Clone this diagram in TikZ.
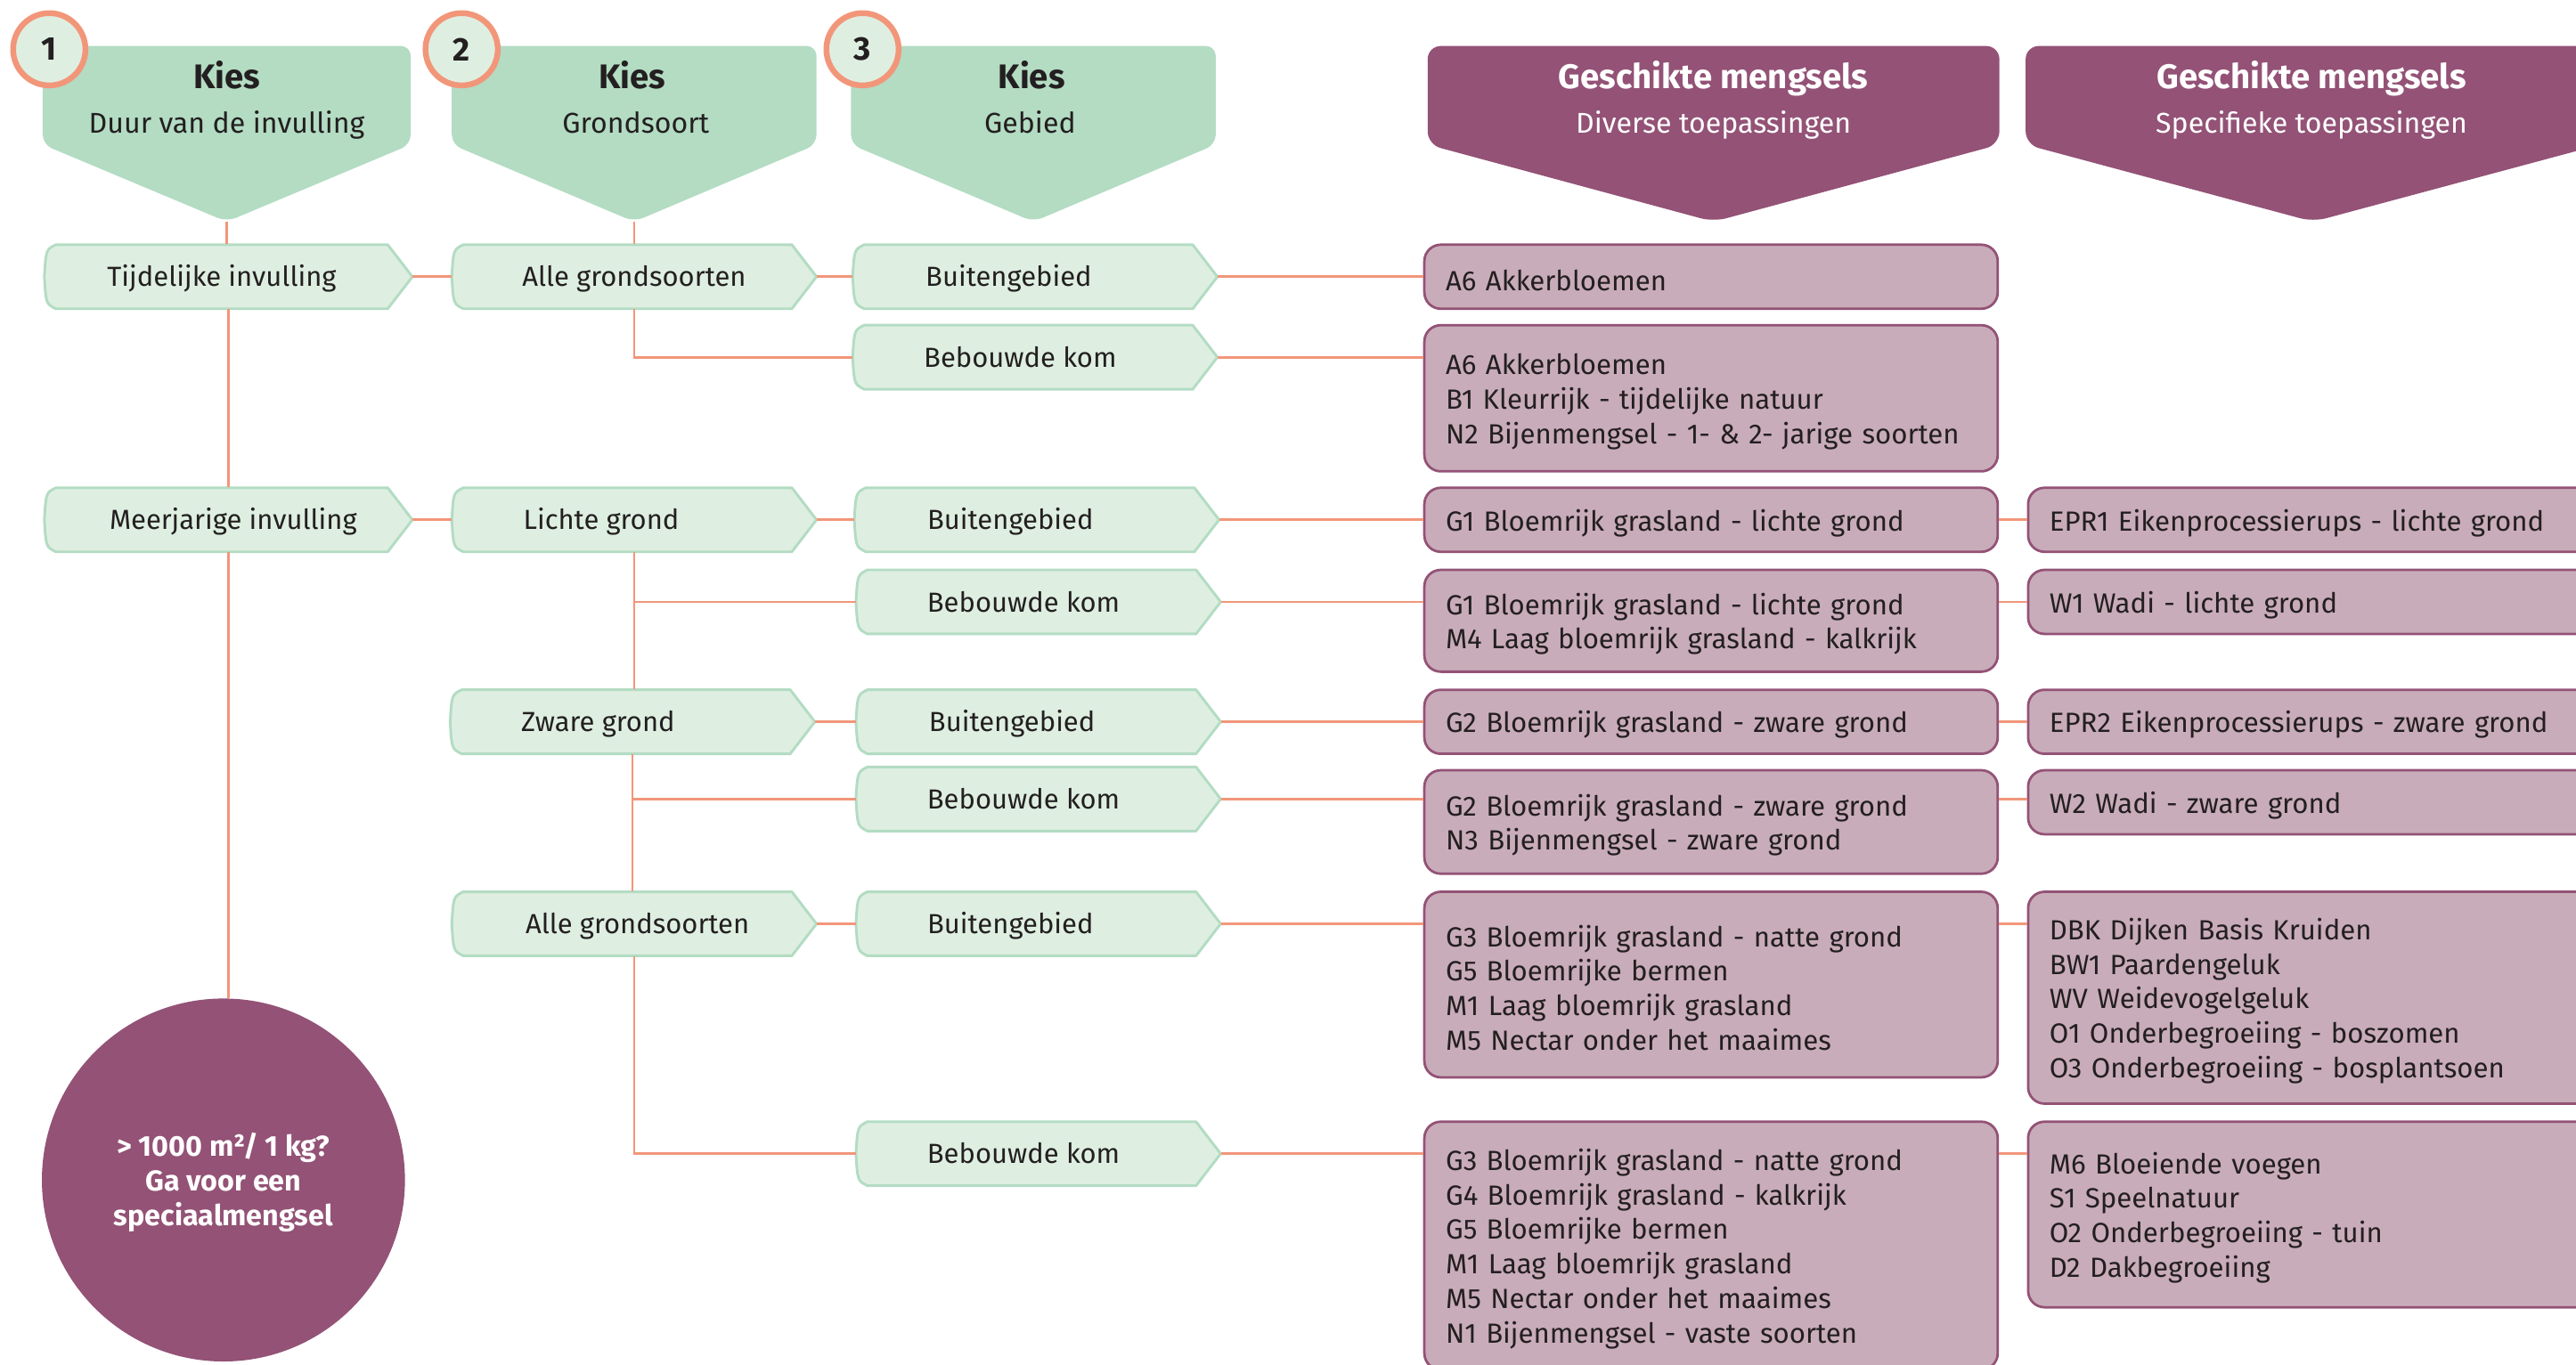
\documentclass[tikz,border=0pt]{standalone}
\usepackage{fontspec}
\setmainfont{Fira Sans}
\usetikzlibrary{calc}
\definecolor{hg}{HTML}{B3DCC3}
\definecolor{bg}{HTML}{DEEFE1}
\definecolor{hp}{HTML}{935276}
\definecolor{bp}{HTML}{C9ACB9}
\definecolor{orng}{HTML}{F2967A}
\definecolor{ink}{HTML}{231F20}
\newcommand\bodyfont{\fontsize{16.9}{21}\selectfont}
\newcommand\fl{\rule{0pt}{17pt}}
\tikzset{
  conn/.style={draw=orng, line width=1.5pt},
  gshape/.style={fill=bg, draw=hg, line width=1.6pt, line join=round},
  ghd/.style={fill=hg, rounded corners=6pt},
  phd/.style={fill=hp, rounded corners=8pt},
  gtext/.style={anchor=base, inner sep=0pt, text=ink, font=\fontsize{16.8}{21}\selectfont},
  htitle/.style={anchor=base, inner sep=0pt, font=\fontsize{20.8}{24}\selectfont\bfseries},
  hsub/.style={anchor=base, inner sep=0pt, font=\fontsize{17.4}{21}\selectfont},
  pbox/.style={rectangle, rounded corners=10pt, fill=bp, draw=hp, line width=1.5pt,
    inner xsep=13pt, inner ysep=0pt, text width=323pt, align=left, text=ink, font=\bodyfont},
  numc/.style={circle, fill=bg, draw=orng, line width=3.5pt, minimum size=44pt, inner sep=0pt,
    text=ink, font=\fontsize{20}{22}\selectfont\bfseries},
  bigc/.style={circle, fill=hp, minimum size=221pt, inner sep=0pt, text=white, align=center,
    font=\fontsize{17.5}{21}\selectfont\bfseries},
  frame/.style={inner sep=0pt, draw=none}
}
% name, x0, x1, ytop, ybot, textx, text
\newcommand\gopt[7]{%
  \path[gshape] (#2+7,#4) -- (#3-15,#4) -- (#3,{(#4+#5)/2}) -- (#3-15,#5) -- (#2+7,#5)
     .. controls (#2+1,#5-3) .. (#2,{(#4+#5)/2}) .. controls (#2+1,#4+3) .. cycle;
  \node[frame, minimum width={(#3-#2)*1pt}, minimum height={(#5-#4)*1pt}] (#1) at ({(#2+#3)/2},{(#4+#5)/2}) {};
  \node[gtext] (#1-t) at (#6,{(#4+#5)/2+6}) {#7};
}
% name, x0, x1, tipx
\newcommand\greenhead[4]{%
  \path[ghd] (#2,28) -- (#3,28) -- (#3,88) -- (#4,135) -- (#2,88) -- cycle;
  \coordinate (#1) at (#4,135);
}
\newcommand\purplehead[4]{%
  \path[phd] (#2,28) -- (#3,28) -- (#3,88) -- (#4,135) -- (#2,88) -- cycle;
  \coordinate (#1) at (#4,135);
}
\begin{document}
\begin{tikzpicture}[x=1pt,y=-1pt]
\useasboundingbox (0,0) rectangle (1568,831);
\clip (0,0) rectangle (1568,831);
\fill[white] (0,0) rectangle (1568,831);

% headers
\greenhead{h1}{26}{250}{138}
\greenhead{h2}{275}{497}{386}
\greenhead{h3}{518}{740}{629}
\purplehead{h4}{869}{1217}{1043}
\purplehead{h5}{1233}{1583}{1408}

\node[htitle, text=ink] (h1a) at (138,54) {Kies};
\node[hsub, text=ink] (h1b) at (138,81) {Duur van de invulling};
\node[htitle, text=ink] (h2a) at (385,54) {Kies};
\node[hsub, text=ink] (h2b) at (387,81) {Grondsoort};
\node[htitle, text=ink] (h3a) at (628,54) {Kies};
\node[hsub, text=ink] (h3b) at (627,81) {Gebied};
\node[htitle, text=white] (h4a) at (1043,54) {Geschikte mengsels};
\node[hsub, text=white] (h4b) at (1043,81) {Diverse toepassingen};
\node[htitle, text=white] (h5a) at (1407,54) {Geschikte mengsels};
\node[hsub, text=white] (h5b) at (1407,81) {Specifieke toepassingen};

\node[numc] (n1) at (30,30) {1};
\node[numc] (n2) at (281,30) {2};
\node[numc] (n3) at (525,30) {3};

% green option boxes
\gopt{tij}{27}{251}{149}{188}{135}{Tijdelijke invulling}
\gopt{alle1}{275}{497}{149}{188}{386}{Alle grondsoorten}
\gopt{bui1}{519}{741}{149}{188}{614}{Buitengebied}
\gopt{beb1}{519}{741}{198}{237}{621}{Bebouwde kom}
\gopt{meer}{27}{251}{297}{336}{142}{Meerjarige invulling}
\gopt{licht}{275}{497}{297}{336}{366}{Lichte grond}
\gopt{bui2}{520}{742}{297}{336}{615}{Buitengebied}
\gopt{beb2}{521}{743}{347}{386}{623}{Bebouwde kom}
\gopt{zwaar}{274}{496}{420}{459}{364}{Zware grond}
\gopt{bui3}{521}{743}{420}{459}{616}{Buitengebied}
\gopt{beb3}{521}{743}{467}{506}{623}{Bebouwde kom}
\gopt{alle2}{275}{497}{543}{582}{388}{Alle grondsoorten}
\gopt{bui4}{521}{743}{543}{582}{615}{Buitengebied}
\gopt{beb4}{521}{743}{683}{722}{623}{Bebouwde kom}

% purple boxes column 1
\node[pbox, minimum height=39pt] (p1) at (1041.5,168.5) {\fl A6 Akkerbloemen};
\node[pbox, minimum height=89pt] (p2) at (1041.5,242.5) {\fl A6 Akkerbloemen\\B1 Kleurrijk - tijdelijke natuur\\N2 Bijenmengsel - 1- \& 2- jarige soorten};
\node[pbox, minimum height=39pt] (p3) at (1041.5,316.5) {\fl G1 Bloemrijk grasland - lichte grond};
\node[pbox, minimum height=62pt] (p4) at (1041.5,378) {\fl G1 Bloemrijk grasland - lichte grond\\M4 Laag bloemrijk grasland - kalkrijk};
\node[pbox, minimum height=39pt] (p5) at (1041.5,439.5) {\fl G2 Bloemrijk grasland - zware grond};
\node[pbox, minimum height=63pt] (p6) at (1041.5,500.5) {\fl G2 Bloemrijk grasland - zware grond\\N3 Bijenmengsel - zware grond};
\node[pbox, minimum height=113pt] (p7) at (1041.5,599.5) {\fl G3 Bloemrijk grasland - natte grond\\G5 Bloemrijke bermen\\M1 Laag bloemrijk grasland\\M5 Nectar onder het maaimes};
\node[pbox, minimum height=151pt] (p8) at (1041.5,758.5) {\fl G3 Bloemrijk grasland - natte grond\\G4 Bloemrijk grasland - kalkrijk\\G5 Bloemrijke bermen\\M1 Laag bloemrijk grasland\\M5 Nectar onder het maaimes\\N1 Bijenmengsel - vaste soorten};

% purple boxes column 2
\node[pbox, minimum height=39pt] (q3) at (1409,316.5) {\fl EPR1 Eikenprocessierups - lichte grond};
\node[pbox, minimum height=39pt] (q4) at (1409,366.5) {\fl W1 Wadi - lichte grond};
\node[pbox, minimum height=39pt] (q5) at (1409,439.5) {\fl EPR2 Eikenprocessierups - zware grond};
\node[pbox, minimum height=39pt] (q6) at (1409,488.5) {\fl W2 Wadi - zware grond};
\node[pbox, minimum height=129pt] (q7) at (1409,607.5) {\fl DBK Dijken Basis Kruiden\\BW1 Paardengeluk\\WV Weidevogelgeluk\\O1 Onderbegroeiing - boszomen\\O3 Onderbegroeiing - bosplantsoen};
\node[pbox, minimum height=113pt] (q8) at (1409,739.5) {\fl M6 Bloeiende voegen\\S1 Speelnatuur\\O2 Onderbegroeiing - tuin\\D2 Dakbegroeiing};

% big circle
\node[bigc] (circ) at (136,718.5) {\fl > 1000 m²/ 1 kg?\\Ga voor een\\speciaalmengsel};

% connectors
\draw[conn] (h1) -- (h1 |- tij.north);
\draw[conn] (tij.south) -- (meer.north);
\draw[conn] (meer.south) -- (meer.south |- circ.north);
\draw[conn] (h2) -- (h2 |- alle1.north);
\draw[conn] (alle1.south) |- (beb1.west);
\draw[conn] (licht.south) -- (licht.south |- zwaar.north);
\draw[conn] (licht.south) |- (beb2.west);
\draw[conn] (zwaar.south) -- (zwaar.south |- alle2.north);
\draw[conn] (zwaar.south) |- (beb3.west);
\draw[conn] (alle2.south) |- (beb4.west);

\draw[conn] (tij.east) -- (alle1.west);
\draw[conn] (alle1.east) -- (bui1.west);
\draw[conn] (bui1.east) -- (p1.west);
\draw[conn] (beb1.east) -- (p2.west |- beb1.east);
\draw[conn] (meer.east) -- (licht.west);
\draw[conn] (licht.east) -- (bui2.west);
\draw[conn] (bui2.east) -- (p3.west);
\draw[conn] (p3.east) -- (q3.west);
\draw[conn] (beb2.east) -- (p4.west |- beb2.east);
\draw[conn] (p4.east |- beb2.east) -- (q4.west |- beb2.east);
\draw[conn] (zwaar.east) -- (bui3.west);
\draw[conn] (bui3.east) -- (p5.west);
\draw[conn] (p5.east) -- (q5.west);
\draw[conn] (beb3.east) -- (p6.west |- beb3.east);
\draw[conn] (p6.east |- beb3.east) -- (q6.west |- beb3.east);
\draw[conn] (alle2.east) -- (bui4.west);
\draw[conn] (bui4.east) -- (p7.west |- bui4.east);
\draw[conn] (p7.east |- bui4.east) -- (q7.west |- bui4.east);
\draw[conn] (beb4.east) -- (p8.west |- beb4.east);
\draw[conn] (p8.east |- beb4.east) -- (q8.west |- beb4.east);
\end{tikzpicture}
\end{document}
